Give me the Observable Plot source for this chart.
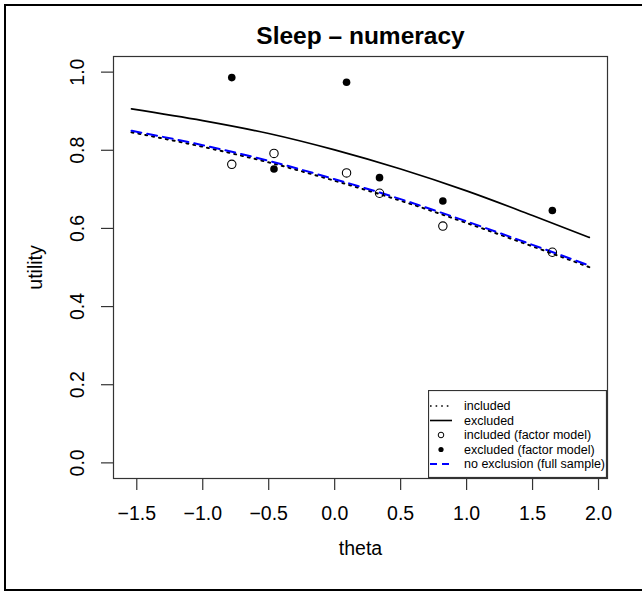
<!DOCTYPE html>
<html>
<head>
<meta charset="utf-8">
<script src="https://cdn.jsdelivr.net/npm/d3@7"></script>
<script src="https://cdn.jsdelivr.net/npm/@observablehq/plot@0.6"></script>
<style>
  html, body { margin: 0; padding: 0; background: white; overflow: hidden; }
  #wrap { position: relative; width: 642px; height: 595px; overflow: hidden; background: white; }
  #outer { position: absolute; left: 4px; top: 4px; width: 700px; height: 587px; border: 2px solid #000; box-sizing: border-box; pointer-events: none; }
  #chart { position: absolute; left: 0; top: 0; }
  #legend { position: absolute; left: 428px; top: 390px; }
</style>
</head>
<body>
<div id="wrap">
  <div id="chart"></div>
  <div id="outer"></div>
  <div id="legend"></div>
</div>
<script>
// ---- data ----
const titleText = "Sleep – numeracy";
const xLabel = "theta";
const yLabel = "utility";

const xTicks = [-1.5, -1.0, -0.5, 0.0, 0.5, 1.0, 1.5, 2.0];
const yTicks = [0.0, 0.2, 0.4, 0.6, 0.8, 1.0];

// factor-model points
const thetaPts   = [-0.78, -0.46, 0.09, 0.34, 0.82, 1.65];
const includedFM = [0.764, 0.792, 0.742, 0.690, 0.606, 0.539];
const excludedFM = [0.986, 0.752, 0.974, 0.730, 0.670, 0.646];

// curves
const thetaCurve    = [-1.54, -1.0, -0.5, 0.0, 0.5, 1.0, 1.5, 1.93];
const includedCurve = [0.846, 0.809, 0.769, 0.722, 0.671, 0.614, 0.554, 0.501];
const excludedCurve = [0.906, 0.876, 0.843, 0.801, 0.752, 0.696, 0.633, 0.577];
const fullCurve     = [0.850, 0.813, 0.773, 0.726, 0.675, 0.618, 0.558, 0.505];

const legendLabels = ["included", "excluded", "included (factor model)", "excluded (factor model)", "no exclusion (full sample)"];

// ---- build tables ----
const toRows = (xs, ys) => xs.map((t, i) => ({theta: t, u: ys[i]}));
const incLine = toRows(thetaCurve, includedCurve);
const excLine = toRows(thetaCurve, excludedCurve);
const fullLine = toRows(thetaCurve, fullCurve);
const incPts = toRows(thetaPts, includedFM);
const excPts = toRows(thetaPts, excludedFM);

const fmt = d => d.toFixed(1).replace("-", "\u2212");
const FONT = "'Liberation Sans', Arial, Helvetica, sans-serif";

const chart = Plot.plot({
  width: 642,
  height: 595,
  marginLeft: 113,
  marginRight: 35,
  marginTop: 56,
  marginBottom: 117,
  style: {fontFamily: FONT, background: "transparent", color: "#000"},
  x: {domain: [-1.6765, 2.068]},
  y: {domain: [-0.04, 1.04]},
  marks: [
    Plot.frame({stroke: "#333", strokeWidth: 1.2}),
    Plot.axisX({ticks: xTicks, tickSize: 12, tickPadding: 16, tickFormat: fmt, fontSize: 19.5, label: null, stroke: "#333", strokeWidth: 1.2}),
    Plot.axisY({ticks: yTicks, tickSize: 12, tickFormat: () => "", label: null, stroke: "#333", strokeWidth: 1.2}),
    Plot.text(yTicks, {y: d => d, frameAnchor: "left", dx: -36, rotate: -90, text: fmt, fontSize: 19.5, textAnchor: "middle", lineAnchor: "middle"}),
    Plot.text([titleText], {frameAnchor: "top", dy: -20, fontSize: 24.5, fontWeight: "bold", text: d => d, textAnchor: "middle", lineAnchor: "middle"}),
    Plot.text([xLabel], {frameAnchor: "bottom", dy: 70, fontSize: 19.5, text: d => d, textAnchor: "middle", lineAnchor: "middle"}),
    Plot.text([yLabel], {frameAnchor: "left", dx: -78, rotate: -90, fontSize: 19.5, text: d => d, textAnchor: "middle", lineAnchor: "middle"}),
    Plot.line(excLine, {x: "theta", y: "u", stroke: "#000", strokeWidth: 1.7, curve: "monotone-x"}),
    Plot.line(incLine, {x: "theta", y: "u", stroke: "#000", strokeWidth: 2, strokeDasharray: "2,5", curve: "monotone-x"}),
    Plot.line(fullLine, {x: "theta", y: "u", stroke: "#0000ff", strokeWidth: 2, strokeDasharray: "10,6", curve: "monotone-x"}),
    Plot.dot(incPts, {x: "theta", y: "u", r: 4.2, stroke: "#000", strokeWidth: 1.1, fill: "none"}),
    Plot.dot(excPts, {x: "theta", y: "u", r: 3.8, fill: "#000", stroke: "none"})
  ]
});
document.getElementById("chart").appendChild(chart);

// ---- legend ----
const lw = 179, lh = 88;
const lsvg = d3.select("#legend").append("svg")
  .attr("width", lw).attr("height", lh)
  .style("font-family", FONT).style("display", "block");
lsvg.append("rect").attr("x", 0.5).attr("y", 0.5).attr("width", lw - 1).attr("height", lh - 1)
  .attr("fill", "white").attr("stroke", "#333").attr("stroke-width", 1.2);
const rowY = i => 16 + i * 14.5;
legendLabels.forEach((lab, i) => {
  const y = rowY(i);
  const g = lsvg.append("g");
  if (i === 0) g.append("line").attr("x1", 2).attr("x2", 24).attr("y1", y).attr("y2", y).attr("stroke", "#000").attr("stroke-width", 1.6).attr("stroke-dasharray", "1.6,4");
  if (i === 1) g.append("line").attr("x1", 2).attr("x2", 24).attr("y1", y).attr("y2", y).attr("stroke", "#000").attr("stroke-width", 1.6);
  if (i === 2) g.append("circle").attr("cx", 13).attr("cy", y).attr("r", 2.8).attr("fill", "none").attr("stroke", "#000").attr("stroke-width", 1);
  if (i === 3) g.append("circle").attr("cx", 13).attr("cy", y).attr("r", 2.6).attr("fill", "#000");
  if (i === 4) g.append("line").attr("x1", 2).attr("x2", 24).attr("y1", y).attr("y2", y).attr("stroke", "#0000ff").attr("stroke-width", 1.8).attr("stroke-dasharray", "7,5");
  g.append("text").attr("x", 36).attr("y", y).attr("dy", "0.35em").attr("font-size", 12.5).attr("fill", "#000").text(lab);
});
</script>
</body>
</html>
